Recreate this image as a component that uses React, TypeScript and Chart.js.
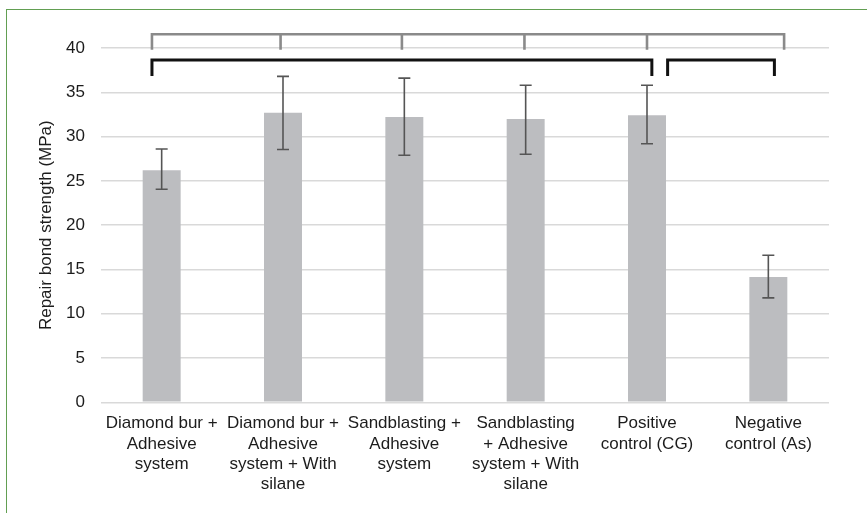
import React, { useEffect, useRef } from 'react';
import { Chart, registerables } from 'chart.js';

Chart.register(...registerables);

// Groups (multi-line tick labels)
const categories: string[][] = [
  ['Diamond bur +', 'Adhesive', 'system'],
  ['Diamond bur +', 'Adhesive', 'system + With', 'silane'],
  ['Sandblasting +', 'Adhesive', 'system'],
  ['Sandblasting', '+ Adhesive', 'system + With', 'silane'],
  ['Positive', 'control (CG)'],
  ['Negative', 'control (As)'],
];

// Mean repair bond strength (MPa)
const means = [26.2, 32.7, 32.2, 32.0, 32.4, 14.15];
// Error bar ends
const errLow = [24.05, 28.55, 27.9, 28.0, 29.2, 11.8];
const errHigh = [28.6, 36.8, 36.6, 35.8, 35.8, 16.6];

const yTicks = [0, 5, 10, 15, 20, 25, 30, 35, 40];

// Significance brackets: positions on the category axis, heights in MPa
const grayBracketX = [-0.08, 0.98, 1.98, 2.99, 4.0, 5.13];
const grayBracketTop = 41.55;
const grayBracketLeg = 39.8;
const blackBrackets = [
  [-0.08, 4.04],
  [4.17, 5.05],
];
const blackBracketTop = 38.65;
const blackBracketLeg = 36.85;

const FONT = '"Liberation Sans", Arial, Helvetica, sans-serif';
const TEXT = '#1c1c1c';

const errorBarsPlugin = {
  id: 'errorBars',
  afterDatasetsDraw(chart: any) {
    const { ctx, scales } = chart;
    const y = scales.y;
    const meta = chart.getDatasetMeta(0);
    ctx.save();
    ctx.strokeStyle = '#555555';
    ctx.lineWidth = 1.6;
    meta.data.forEach((bar: any, i: number) => {
      const cx = bar.x;
      const top = y.getPixelForValue(errHigh[i]);
      const bot = y.getPixelForValue(errLow[i]);
      const cap = 6;
      ctx.beginPath();
      ctx.moveTo(cx, top);
      ctx.lineTo(cx, bot);
      ctx.moveTo(cx - cap, top);
      ctx.lineTo(cx + cap, top);
      ctx.moveTo(cx - cap, bot);
      ctx.lineTo(cx + cap, bot);
      ctx.stroke();
    });
    ctx.restore();
  },
};

const bracketsPlugin = {
  id: 'brackets',
  afterDraw(chart: any) {
    const { ctx, scales } = chart;
    const { x, y } = scales;
    ctx.save();
    ctx.lineCap = 'butt';
    ctx.lineJoin = 'miter';

    // gray bracket with a leg at each group
    const gTop = y.getPixelForValue(grayBracketTop);
    const gLeg = y.getPixelForValue(grayBracketLeg);
    ctx.strokeStyle = '#8a8a8a';
    ctx.lineWidth = 2.6;
    const gx = grayBracketX.map((v) => x.getPixelForValue(v));
    ctx.beginPath();
    ctx.moveTo(gx[0], gLeg);
    ctx.lineTo(gx[0], gTop);
    ctx.lineTo(gx[gx.length - 1], gTop);
    ctx.lineTo(gx[gx.length - 1], gLeg);
    for (let i = 1; i < gx.length - 1; i++) {
      ctx.moveTo(gx[i], gTop);
      ctx.lineTo(gx[i], gLeg);
    }
    ctx.stroke();

    // black brackets
    const bTop = y.getPixelForValue(blackBracketTop);
    const bLeg = y.getPixelForValue(blackBracketLeg);
    ctx.strokeStyle = '#111111';
    ctx.lineWidth = 3;
    blackBrackets.forEach(([a, b]) => {
      const xa = x.getPixelForValue(a);
      const xb = x.getPixelForValue(b);
      ctx.beginPath();
      ctx.moveTo(xa, bLeg);
      ctx.lineTo(xa, bTop);
      ctx.lineTo(xb, bTop);
      ctx.lineTo(xb, bLeg);
      ctx.stroke();
    });
    ctx.restore();
  },
};

const BondChart: React.FC = () => {
  const chartRef = useRef<HTMLCanvasElement>(null);
  const chartInstanceRef = useRef<Chart | null>(null);

  useEffect(() => {
    if (chartInstanceRef.current) {
      chartInstanceRef.current.destroy();
      chartInstanceRef.current = null;
    }
    if (!chartRef.current) return;
    const ctx = chartRef.current.getContext('2d');
    if (!ctx) return;

    const chartConfig: any = {
      type: 'bar' as const,
      data: {
        labels: categories,
        datasets: [
          {
            label: 'Repair bond strength',
            data: means,
            backgroundColor: '#bcbdc0',
            borderWidth: 0,
            barPercentage: 0.313,
            categoryPercentage: 1,
          },
        ],
      },
      options: {
        responsive: true,
        maintainAspectRatio: false,
        animation: false,
        layout: {
          padding: { top: 48, right: 38, bottom: 7, left: 36 },
        },
        plugins: {
          legend: { display: false },
          tooltip: { enabled: false },
        },
        scales: {
          x: {
            grid: { display: false, drawTicks: false },
            border: { display: false },
            ticks: {
              color: TEXT,
              font: { family: FONT, size: 17, lineHeight: 1.2 },
              padding: 11,
              maxRotation: 0,
              autoSkip: false,
            },
          },
          y: {
            min: 0,
            max: 40,
            afterBuildTicks: (scale: any) => {
              scale.ticks = yTicks.map((v) => ({ value: v }));
            },
            afterFit: (scale: any) => {
              scale.width = 65;
            },
            grid: {
              color: '#d9d9d9',
              lineWidth: 1.6,
              drawTicks: false,
            },
            border: { display: false },
            ticks: {
              color: TEXT,
              font: { family: FONT, size: 17 },
              padding: 16,
            },
            title: {
              display: true,
              text: 'Repair bond strength (MPa)',
              color: TEXT,
              font: { family: FONT, size: 17 },
              padding: { top: 0, bottom: 0 },
            },
          },
        },
      },
      plugins: [errorBarsPlugin, bracketsPlugin],
    };

    chartInstanceRef.current = new Chart(ctx, chartConfig);

    return () => {
      if (chartInstanceRef.current) {
        chartInstanceRef.current.destroy();
        chartInstanceRef.current = null;
      }
    };
  }, []);

  return <canvas ref={chartRef} />;
};

export default function App() {
  return (
    <div
      style={{
        position: 'fixed',
        left: 0,
        top: 0,
        width: 867,
        height: 513,
        background: '#ffffff',
        overflow: 'hidden',
      }}
    >
      <div
        style={{
          position: 'absolute',
          left: 6,
          top: 9,
          width: 900,
          height: 600,
          borderTop: '1.5px solid #629f52',
          borderLeft: '1.5px solid #629f52',
        }}
      />
      <div style={{ position: 'absolute', left: 0, top: 0, width: 867, height: 513 }}>
        <BondChart />
      </div>
    </div>
  );
}
